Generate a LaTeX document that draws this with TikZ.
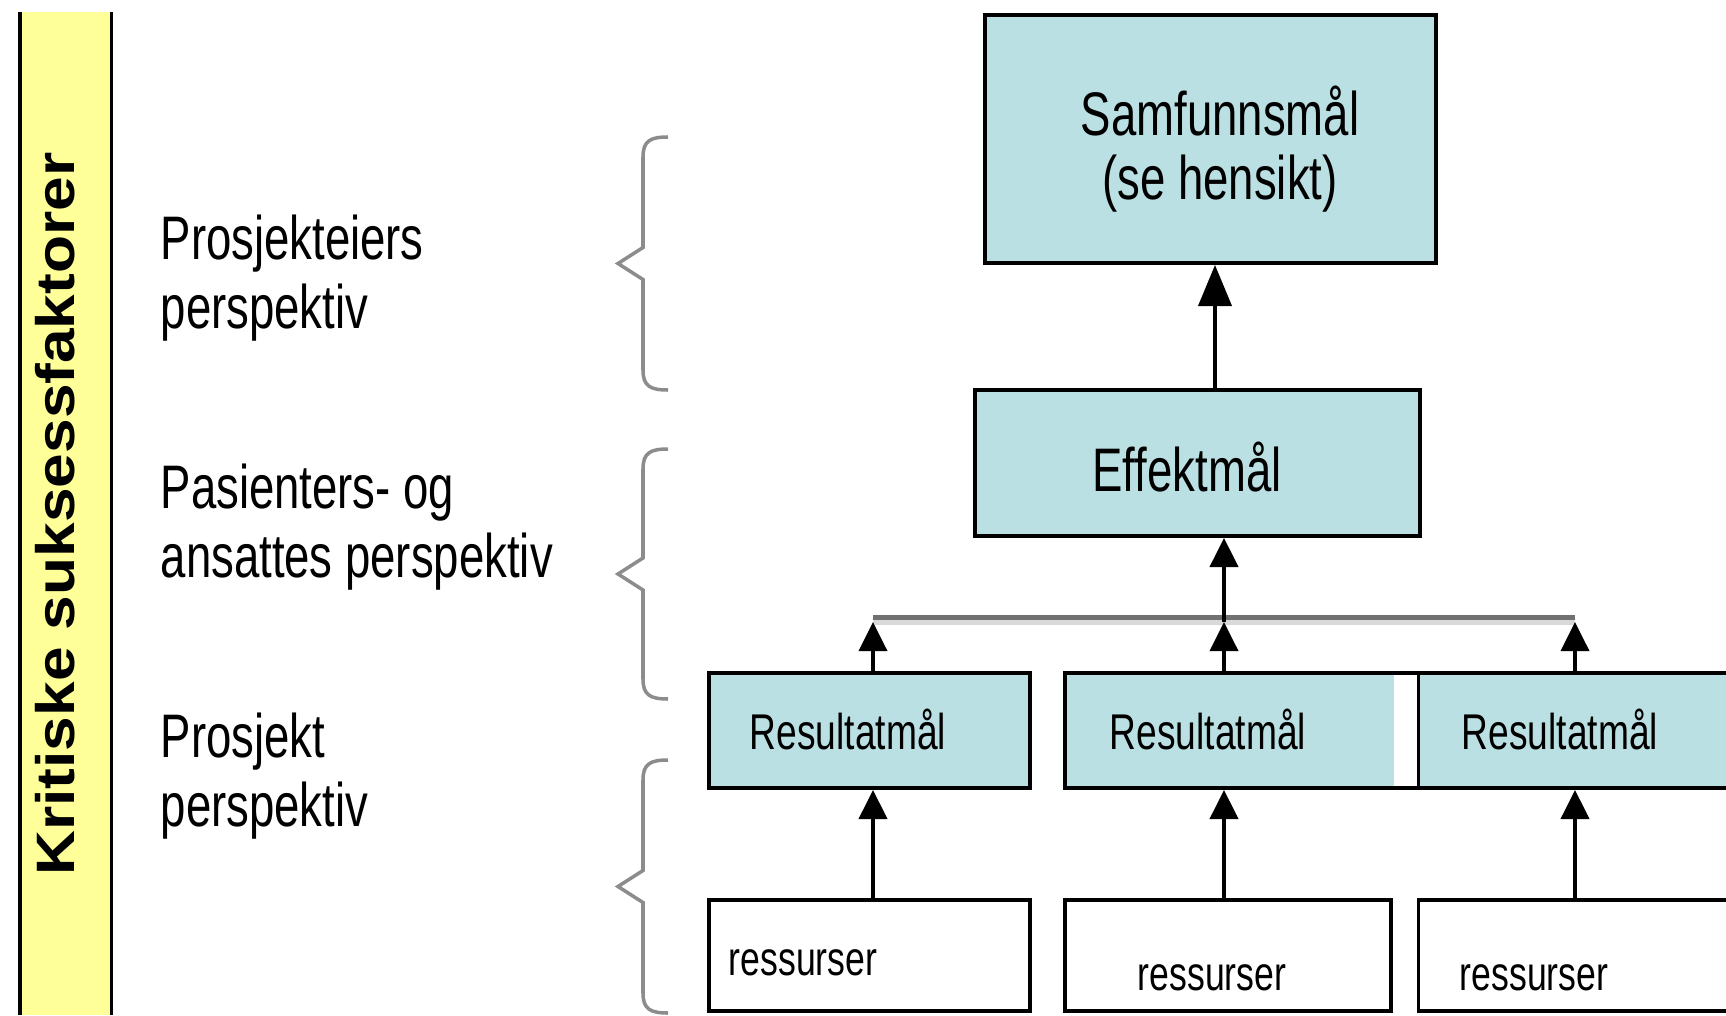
\documentclass[tikz,border=0pt]{standalone}
\usepackage{fontspec}
\setmainfont{Liberation Sans}
\newfontfamily\narrowsf[FakeStretch=0.74]{Liberation Sans}
\newfontfamily\sidesf[FakeStretch=1.15]{Liberation Sans}
\usetikzlibrary{arrows.meta}
\definecolor{goalfill}{RGB}{187,224,227}
\definecolor{barfill}{RGB}{255,255,153}
\definecolor{busgray}{RGB}{113,113,113}
\definecolor{shadegray}{RGB}{217,217,217}
\begin{document}
\begin{tikzpicture}[
  goal/.style={draw, line width=1.1pt, fill=goalfill, inner sep=0pt, minimum height=1.15cm},
  ress/.style={draw, line width=1.1pt, fill=white, inner sep=0pt, minimum height=1.11cm},
  big/.style={font=\narrowsf\fontsize{17.5}{19.5}\selectfont, inner sep=0pt},
  small/.style={font=\narrowsf\fontsize{14.3}{16}\selectfont, inner sep=0pt, anchor=base},
  tiny/.style={font=\narrowsf\fontsize{13.7}{16}\selectfont, inner sep=0pt, anchor=base},
  arr/.style={line width=1.1pt, -{Triangle[length=8.3pt,width=8pt]}},
  brace/.style={black!45, line width=1pt}
]
\useasboundingbox (0,0) rectangle (17.26,10.15);
\clip (0,0) rectangle (17.26,10.15);
% side bar
\fill[barfill] (0.20,0) rectangle (1.115,10.03);
\draw[line width=1.1pt] (0.20,0) -- (0.20,10.03) (1.115,0) -- (1.115,10.03);
\node[rotate=90, inner sep=0pt, font=\sidesf\bfseries\fontsize{15.4}{18}\selectfont] (ksf) at (0.555,5.01) {Kritiske suksessfaktorer};
% perspectives
\node[big, align=left, anchor=base west] (lbl1) at (1.60,6.87) {Prosjekteiers\\perspektiv};
\node[big, align=left, anchor=base west] (lbl2) at (1.60,4.38) {Pasienters- og\\ansattes perspektiv};
\node[big, align=left, anchor=base west] (lbl3) at (1.60,1.89) {Prosjekt\\perspektiv};
\foreach \t/\b in {8.78/6.25, 5.66/3.16, 2.55/0.02} {
  \pgfmathsetmacro\m{(\t+\b)/2}
  \draw[brace] (6.68,\t) .. controls (6.5,\t) and (6.43,\t-0.04) .. (6.43,\t-0.2) -- (6.43,\m+0.16) -- (6.18,\m) -- (6.43,\m-0.16) -- (6.43,\b+0.2) .. controls (6.43,\b+0.04) and (6.5,\b) .. (6.68,\b);
}
% goal boxes
\node[goal, minimum width=4.51cm, minimum height=2.48cm] (samf) at (12.105,8.76) {};
\node[goal, minimum width=4.45cm, minimum height=1.46cm] (eff) at (11.975,5.52) {};
\node[goal, minimum width=3.21cm] (res1) at (8.695,2.845) {};
\node[goal, minimum width=3.535cm] (res2) at (12.42,2.845) {};
\fill[white] (13.94,3.40) rectangle (14.165,2.29);
\node[goal, minimum width=3.17cm] (res3) at (15.77,2.845) {};
\node[ress, minimum width=3.21cm] (ress1) at (8.695,0.595) {};
\node[ress, minimum width=3.26cm] (ress2) at (12.28,0.595) {};
\node[ress, minimum width=3.17cm] (ress3) at (15.77,0.595) {};
% texts
\node[big, align=center, anchor=base, font=\narrowsf\fontsize{17.5}{18.2}\selectfont] (samftxt) at (12.20,8.16) {Samfunnsmål\\(se hensikt)};
\node[big, anchor=base] (efftxt) at (11.87,5.24) {Effektmål};
\node[small] (restxt1) at (8.48,2.66) {Resultatmål};
\node[small] (restxt2) at (12.08,2.66) {Resultatmål};
\node[small] (restxt3) at (15.60,2.66) {Resultatmål};
\node[tiny] (resstxt1) at (8.03,0.40) {ressurser};
\node[tiny] (resstxt2) at (12.12,0.25) {ressurser};
\node[tiny] (resstxt3) at (15.34,0.25) {ressurser};
% connectors
\coordinate (b1) at (8.73,3.93);
\coordinate (b2) at (12.24,3.93);
\coordinate (b3) at (15.75,3.93);
\coordinate (up) at (12.15,7);
\draw[shadegray, line width=1.4pt] ([yshift=-0.005cm]b1) -- ([yshift=-0.005cm]b3);
\draw[busgray, line width=1.4pt] ([yshift=0.045cm]b1) -- ([yshift=0.045cm]b3);
\draw[arr] (b1 |- res1.north) -- (b1);
\draw[arr] (b2 |- res2.north) -- (b2);
\draw[arr] (b3 |- res3.north) -- (b3);
\draw[arr] (b2) -- (b2 |- eff.south);
\draw[arr] (b1 |- ress1.north) -- (b1 |- res1.south);
\draw[arr] (b2 |- ress2.north) -- (b2 |- res2.south);
\draw[arr] (b3 |- ress3.north) -- (b3 |- res3.south);
\draw[line width=1.1pt, -{Triangle[length=11.7pt,width=9.4pt]}] (up |- eff.north) -- (up |- samf.south);
\end{tikzpicture}
\end{document}
